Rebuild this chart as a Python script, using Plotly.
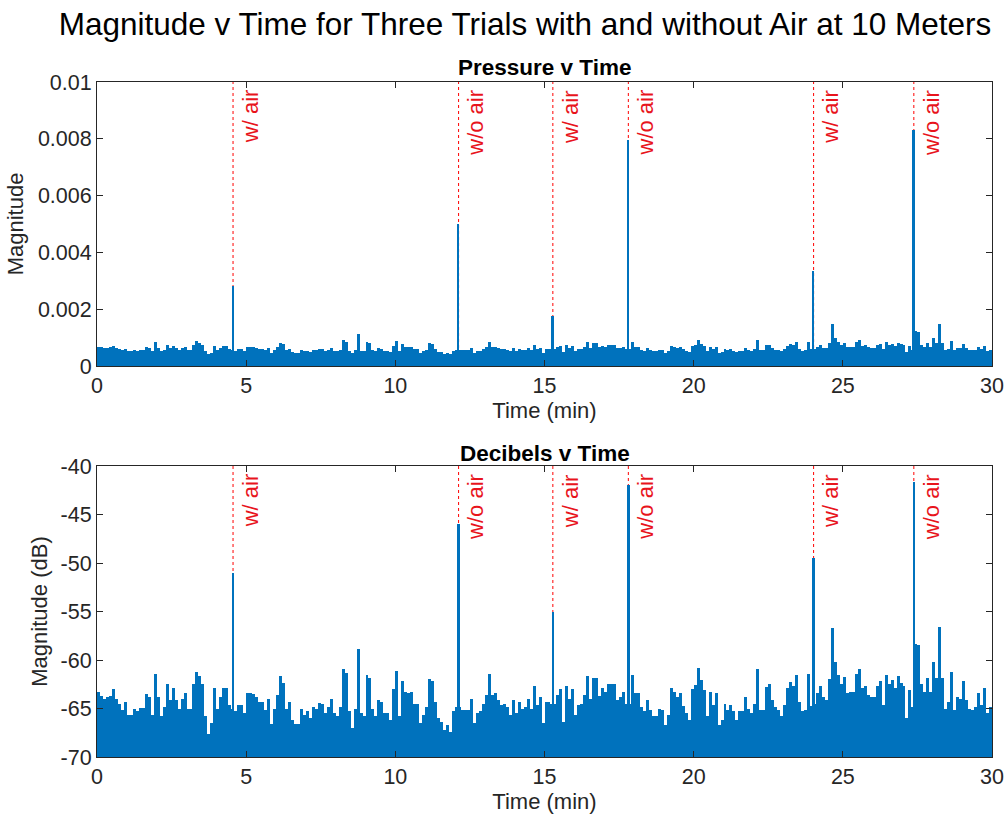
import plotly.graph_objects as go
from plotly.subplots import make_subplots

# ---------------- data ----------------
bin_width_min = 0.1  # each envelope value covers 0.1 min, starting at t = 0
db_envelope = [
    -63.3, -63.7, -64.0, -63.8, -63.7, -63.0, -64.0, -64.5, -65.2, -64.3,
    -65.7, -65.7, -65.1, -65.3, -64.9, -64.9, -63.5, -63.8, -65.7, -61.4,
    -63.8, -65.8, -64.8, -62.5, -64.1, -62.9, -64.1, -65.0, -64.0, -63.4,
    -65.0, -65.0, -62.5, -61.2, -61.7, -62.5, -65.8, -67.6, -66.5, -62.9,
    -65.0, -63.8, -62.9, -62.9, -64.6, -65.0, -65.3, -64.6, -64.6, -65.5,
    -63.4, -63.4, -63.5, -63.8, -64.3, -64.3, -65.2, -64.0, -66.6, -65.1,
    -63.6, -61.7, -62.4, -65.0, -64.3, -66.2, -66.6, -66.6, -65.1, -65.7,
    -65.3, -66.0, -64.8, -65.0, -64.4, -64.5, -65.5, -64.8, -64.0, -65.5,
    -65.8, -64.8, -60.9, -61.3, -65.3, -67.0, -65.0, -58.9, -65.5, -65.8,
    -61.5, -61.9, -65.0, -65.8, -64.1, -64.3, -65.5, -65.5, -66.2, -63.0,
    -61.1, -65.8, -62.2, -63.3, -63.4, -63.3, -64.5, -64.5, -66.5, -65.7,
    -64.8, -62.0, -62.2, -64.3, -66.0, -66.4, -67.2, -66.7, -67.4, -65.3,
    -64.8, -64.8, -65.2, -65.2, -65.2, -64.0, -66.5, -65.5, -65.3, -64.5,
    -63.6, -61.4, -63.6, -63.4, -64.1, -64.6, -64.5, -64.8, -65.7, -64.1,
    -65.5, -64.3, -65.0, -64.8, -64.0, -65.0, -62.7, -64.6, -63.8, -66.5,
    -64.3, -64.3, -64.5, -64.5, -63.6, -63.0, -66.4, -62.7, -64.0, -63.0,
    -65.7, -64.6, -64.5, -63.6, -61.6, -64.0, -61.9, -61.9, -63.7, -62.9,
    -63.3, -62.5, -62.5, -62.5, -64.1, -63.8, -63.3, -64.5, -64.5, -61.5,
    -63.4, -63.4, -64.8, -65.3, -64.1, -65.2, -65.8, -65.8, -65.0, -65.2,
    -66.7, -65.7, -62.9, -63.3, -63.8, -63.4, -64.7, -65.5, -66.2, -63.0,
    -62.6, -60.8, -62.1, -63.1, -65.8, -63.3, -64.6, -63.4, -66.7, -66.2,
    -64.5, -65.2, -64.6, -65.3, -66.2, -65.3, -65.3, -63.8, -65.1, -65.5,
    -64.5, -60.9, -65.2, -65.2, -62.8, -62.5, -64.1, -64.8, -65.2, -65.8,
    -64.6, -62.9, -62.3, -62.7, -61.5, -64.3, -65.3, -65.2, -61.4, -64.7,
    -64.5, -63.4, -62.7, -63.8, -64.1, -62.0, -56.7, -60.2, -61.5, -62.5,
    -61.8, -63.4, -63.3, -63.3, -61.4, -60.9, -62.9, -62.7, -63.6, -63.8,
    -63.8, -62.7, -62.2, -64.6, -61.5, -62.5, -62.1, -62.9, -61.7, -62.4,
    -62.7, -66.0, -63.1, -64.8, -58.3, -58.5, -62.5, -63.3, -61.9, -63.3,
    -60.2, -61.9, -56.6, -61.9, -65.0, -64.3, -61.2, -65.2, -63.8, -64.0,
    -62.2, -64.1, -65.0, -65.2, -64.8, -63.4, -64.6, -62.9, -65.5, -64.8,
]
event_times = [4.56, 12.12, 15.28, 17.81, 24.02, 27.38]      # min
event_peak_db = [-51.0, -46.0, -55.0, -42.0, -49.5, -41.6]    # dB
event_labels = ["w/ air", "w/o air", "w/ air", "w/o air", "w/ air", "w/o air"]

x_ticks = [0, 5, 10, 15, 20, 25, 30]
p_ticks = [0, 0.002, 0.004, 0.006, 0.008, 0.01]
p_tick_text = ["0", "0.002", "0.004", "0.006", "0.008", "0.01"]
db_ticks = [-70, -65, -60, -55, -50, -45, -40]
db_tick_text = ["-70", "-65", "-60", "-55", "-50", "-45", "-40"]

# ---------------- derived ----------------
t_env = [(i + 0.5) * bin_width_min for i in range(len(db_envelope))]
p_env = [10 ** (v / 20) for v in db_envelope]
p_peak = [10 ** (v / 20) for v in event_peak_db]
DB_BASE = -80.0

BLUE = "#0072BD"
AX = "#262626"
FONT = "Liberation Sans, Arial, Helvetica, sans-serif"

W, H = 1008, 821
L, R, T, B = 97, 16, 82, 64
plot_h = H - T - B
top_dom = [(757 - 366) / plot_h, 1.0]
bot_dom = [0.0, (757 - 466) / plot_h]

fig = make_subplots(rows=2, cols=1)

# top: pressure
fig.add_trace(go.Bar(x=t_env, y=p_env, width=bin_width_min, marker_color=BLUE,
                     marker_line_width=0, showlegend=False), row=1, col=1)
fig.add_trace(go.Bar(x=event_times, y=p_peak, width=0.06, marker_color=BLUE,
                     marker_line_width=0, showlegend=False), row=1, col=1)
# bottom: decibels
fig.add_trace(go.Bar(x=t_env, y=[v - DB_BASE for v in db_envelope], base=DB_BASE,
                     width=bin_width_min, marker_color=BLUE, marker_line_width=0,
                     showlegend=False), row=2, col=1)
fig.add_trace(go.Bar(x=event_times, y=[v - DB_BASE for v in event_peak_db], base=DB_BASE,
                     width=0.08, marker_color=BLUE, marker_line_width=0,
                     showlegend=False), row=2, col=1)

axis_common = dict(showline=True, linecolor=AX, linewidth=1, mirror="ticks",
                   ticks="inside", ticklen=6, tickcolor=AX, tickwidth=1,
                   showgrid=False, zeroline=False, automargin=False,
                   tickfont=dict(family=FONT, size=21.5, color=AX))

fig.update_xaxes(**axis_common, range=[0, 30], tickvals=x_ticks,
                 title=dict(text="Time (min)", font=dict(family=FONT, size=22, color=AX), standoff=3))
fig.update_yaxes(**axis_common)
fig.update_yaxes(range=[0, 0.01], tickvals=p_ticks, ticktext=p_tick_text, domain=top_dom,
                 title=dict(text="Magnitude", font=dict(family=FONT, size=22, color=AX), standoff=8),
                 row=1, col=1)
fig.update_yaxes(range=[-70, -40], tickvals=db_ticks, ticktext=db_tick_text, domain=bot_dom,
                 title=dict(text="Magnitude (dB)", font=dict(family=FONT, size=22, color=AX), standoff=6),
                 row=2, col=1)

shapes = []
annotations = []
for xa, ya in (("x", "y"), ("x2", "y2")):
    for t, lab in zip(event_times, event_labels):
        shapes.append(dict(type="line", xref=xa, yref=ya + " domain", x0=t, x1=t, y0=0, y1=1,
                           line=dict(color="red", width=1, dash="dot"), layer="below"))
        annotations.append(dict(x=t + 0.1, y=0.98, xref=xa, yref=ya + " domain",
                                text=lab, textangle=-90, showarrow=False,
                                xanchor="left", yanchor="top",
                                font=dict(family=FONT, size=22, color="#E8141C")))

annotations.append(dict(x=0.5, y=1.0, xref="paper", yref="paper", yshift=0,
                        text="<b>Pressure v Time</b>", showarrow=False,
                        xanchor="center", yanchor="bottom",
                        font=dict(family=FONT, size=22.5, color="black")))
annotations.append(dict(x=0.5, y=bot_dom[1], xref="paper", yref="paper", yshift=-2,
                        text="<b>Decibels v Time</b>", showarrow=False,
                        xanchor="center", yanchor="bottom",
                        font=dict(family=FONT, size=22.5, color="black")))

fig.update_layout(
    width=W, height=H,
    margin=dict(l=L, r=R, t=T, b=B),
    paper_bgcolor="white", plot_bgcolor="white",
    bargap=0, barmode="overlay",
    shapes=shapes, annotations=annotations,
    title=dict(text="Magnitude v Time for Three Trials with and without Air at 10 Meters",
               x=525 / W, xanchor="center", y=1 - 24 / H, yanchor="middle",
               font=dict(family=FONT, size=31.5, color="black")),
    showlegend=False,
)

fig.write_html("out.html")
